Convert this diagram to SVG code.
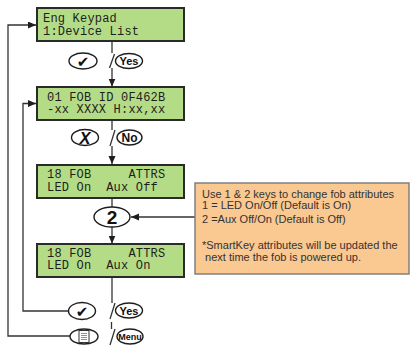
<svg xmlns="http://www.w3.org/2000/svg" width="411" height="346" viewBox="0 0 411 346">
<style>
.lcd rect{fill:#B4DC86;stroke:#2a2a2a;stroke-width:2}
.lcd text{font-family:"Liberation Mono","DejaVu Sans Mono",monospace;font-size:12px;letter-spacing:0.2px;fill:#1e1e1e;white-space:pre}
.btn ellipse{fill:#fff;stroke:#1e1e1e;stroke-width:1.4}
.lbl{font-family:"Liberation Sans",Arial,sans-serif;font-weight:bold;fill:#111;text-anchor:middle}
.sym{font-family:"DejaVu Sans",sans-serif;fill:#111;text-anchor:middle}
.conn line,.conn polyline{stroke:#333;stroke-width:1.3;fill:none}
.note rect{fill:#FAC891;stroke:#808080;stroke-width:1.5}
.note text{font-family:"Liberation Sans",Arial,sans-serif;font-size:11px;fill:#333;white-space:pre}
</style>
<defs>
<marker id="ah" markerUnits="userSpaceOnUse" markerWidth="9" markerHeight="8" refX="8" refY="3.5" orient="auto">
<path d="M0,0 L8,3.5 L0,7 Z" fill="#1e1e1e"/>
</marker>
</defs>

<g id="connectors" class="conn">
<line x1="112" y1="41" x2="112" y2="53"/>
<line x1="109.5" y1="68" x2="114.5" y2="54"/>
<line x1="112" y1="68" x2="112" y2="86.5" marker-end="url(#ah)"/>
<line x1="112" y1="120" x2="112" y2="130"/>
<line x1="110" y1="146" x2="115" y2="130"/>
<line x1="112" y1="146" x2="112" y2="164" marker-end="url(#ah)"/>
<line x1="112" y1="198" x2="112" y2="207"/>
<line x1="112" y1="227" x2="112" y2="243.5" marker-end="url(#ah)"/>
<line x1="112" y1="277" x2="112" y2="303"/>
<line x1="110" y1="319" x2="115" y2="303"/>
<line x1="111.5" y1="322" x2="111.5" y2="329"/>
<line x1="110" y1="345" x2="115" y2="329"/>
<polyline points="70,336 8,336 8,25 36,25" marker-end="url(#ah)"/>
<polyline points="68.5,311 23,311 23,103.5 36,103.5" marker-end="url(#ah)"/>
<line x1="195" y1="217" x2="131" y2="217" marker-end="url(#ah)"/>
</g>

<g id="lcd1" class="lcd">
<rect x="37" y="8" width="147" height="33"/>
<text x="43" y="22">Eng Keypad</text>
<text x="43" y="34.5">1:Device List</text>
</g>
<g id="lcd2" class="lcd">
<rect x="37" y="87" width="147" height="33"/>
<text x="47" y="100.5">01 FOB ID 0F462B</text>
<text x="47" y="113">-xx XXXX H:xx,xx</text>
</g>
<g id="lcd3" class="lcd">
<rect x="37" y="165" width="147" height="33"/>
<text x="47" y="178" xml:space="preserve">18 FOB     ATTRS</text>
<text x="47" y="190.5" xml:space="preserve">LED On  Aux Off</text>
</g>
<g id="lcd4" class="lcd">
<rect x="37" y="244" width="147" height="33"/>
<text x="47" y="256.5" xml:space="preserve">18 FOB     ATTRS</text>
<text x="47" y="269" xml:space="preserve">LED On  Aux On</text>
</g>

<g id="btn-yes1" class="btn">
<ellipse cx="83" cy="61" rx="14" ry="8"/>
<text class="sym" x="83" y="66.5" font-size="15">✔</text>
<ellipse cx="129" cy="61" rx="13.5" ry="7.5"/>
<text class="lbl" x="129" y="65" font-size="11">Yes</text>
</g>
<g id="btn-no" class="btn">
<ellipse cx="85" cy="137.5" rx="13.5" ry="8"/>
<text class="lbl" x="85" y="143.5" font-size="16.5" font-style="italic">X</text>
<ellipse cx="129.5" cy="137.5" rx="12.5" ry="7.5"/>
<text class="lbl" x="129.5" y="141.8" font-size="12">No</text>
</g>
<g id="btn-2" class="btn">
<ellipse cx="112" cy="217" rx="18" ry="10"/>
<text class="lbl" x="112" y="224" font-size="19">2</text>
</g>
<g id="btn-yes2" class="btn">
<ellipse cx="82" cy="311" rx="13.5" ry="8.5"/>
<text class="sym" x="82" y="316.5" font-size="15">✔</text>
<ellipse cx="129" cy="310.5" rx="13.5" ry="7.5"/>
<text class="lbl" x="129" y="314.5" font-size="11">Yes</text>
</g>
<g id="btn-menu" class="btn">
<ellipse cx="84" cy="336.5" rx="14" ry="7.5"/>
<rect x="79" y="330.5" width="10" height="12" fill="#fff" stroke="#333" stroke-width="1"/>
<path d="M81,333.5 H87 M81,335.5 H87 M81,337.5 H87 M81,339.5 H87" stroke="#777" stroke-width="0.8"/>
<ellipse cx="130" cy="336.5" rx="13" ry="7.5"/>
<text class="lbl" x="130" y="339.8" font-size="9">Menu</text>
</g>

<g id="note" class="note">
<rect x="195" y="183" width="214" height="91"/>
<text x="202" y="197.5">Use 1 &amp; 2 keys to change fob attributes</text>
<text x="202" y="208.5">1 = LED On/Off (Default is On)</text>
<text x="202" y="223">2 =Aux Off/On (Default is Off)</text>
<text x="202" y="249">*SmartKey attributes will be updated the</text>
<text x="202" y="261" xml:space="preserve"> next time the fob is powered up.</text>
</g>
</svg>
